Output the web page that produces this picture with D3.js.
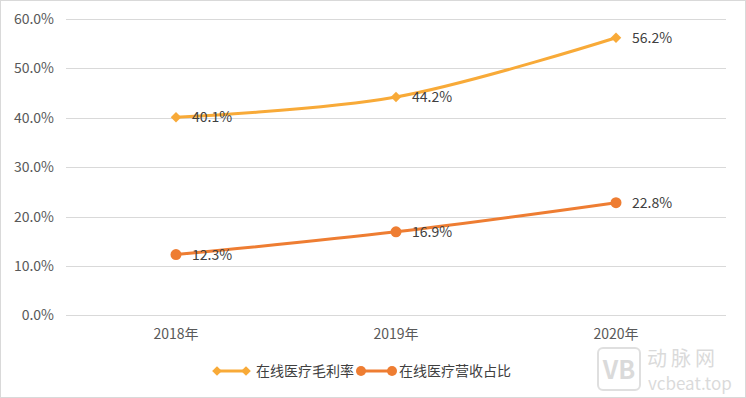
<!DOCTYPE html>
<html><head><meta charset="utf-8">
<script src="https://cdn.jsdelivr.net/npm/d3@7"></script>
<style>body{margin:0;background:#fff}svg{display:block}text{font-family:"Noto Sans CJK SC","Noto Sans",sans-serif}</style>
</head><body><svg id="c" width="746" height="398"></svg>
<script>
const categories = ["2018年","2019年","2020年"];
const grossMargin = [40.1, 44.2, 56.2];
const revenueShare = [12.3, 16.9, 22.8];
const yTicks = [0,10,20,30,40,50,60];
const seriesNames = ["在线医疗毛利率","在线医疗营收占比"];
const colors = ["#F8AA38","#EE7D32"];

const svg = d3.select("#c");
svg.append("rect").attr("x",0.5).attr("y",0.5).attr("width",745).attr("height",397).attr("fill","#fff").attr("stroke","#d9d9d9");

const x = d3.scaleBand().domain(categories).range([66,726]);
const y = d3.scaleLinear().domain([0,60]).range([315.3,19]);

const grid = svg.append("g");
yTicks.forEach(t=>{
  grid.append("line").attr("x1",66).attr("x2",726).attr("y1",Math.round(y(t))+0.5).attr("y2",Math.round(y(t))+0.5).attr("stroke","#d9d9d9").attr("stroke-width",1);
  svg.append("text").attr("x",54).attr("y",y(t)).attr("dy","0.36em").attr("text-anchor","end").attr("font-size",14).attr("fill","#595959").text(t.toFixed(1)+"%");
});
categories.forEach(c=>{
  svg.append("text").attr("x",x(c)+x.bandwidth()/2).attr("y",334).attr("dy","0.36em").attr("text-anchor","middle").attr("font-size",14).attr("fill","#595959").text(c);
});

const cx = c=>x(c)+x.bandwidth()/2;
const line = d3.line().x(d=>cx(d.c)).y(d=>y(d.v)).curve(d3.curveCatmullRom.alpha(0.5));
const series = [grossMargin, revenueShare];
series.forEach((vals,i)=>{
  const pts = vals.map((v,j)=>({c:categories[j],v}));
  svg.append("path").attr("d",line(pts)).attr("fill","none").attr("stroke",colors[i]).attr("stroke-width",3).attr("stroke-linecap","round");
  pts.forEach(p=>{
    if(i===0){
      svg.append("path").attr("d",d3.symbol(d3.symbolDiamond2,70)()).attr("transform",`translate(${cx(p.c)},${y(p.v)})`).attr("fill",colors[i]);
    } else {
      svg.append("circle").attr("cx",cx(p.c)).attr("cy",y(p.v)).attr("r",5.5).attr("fill",colors[i]);
    }
    svg.append("text").attr("x",cx(p.c)+16).attr("y",y(p.v)).attr("dy","0.36em").attr("font-size",14).attr("fill","#404040").text(p.v.toFixed(1)+"%");
  });
});

// legend
const ly = 371;
const leg = [{x0:213,tx:256},{x0:357,tx:399}];
leg.forEach((L,i)=>{
  svg.append("line").attr("x1",L.x0+4).attr("x2",L.x0+33).attr("y1",ly).attr("y2",ly).attr("stroke",colors[i]).attr("stroke-width",3);
  if(i===0){
    [L.x0+4,L.x0+33].forEach(px=>svg.append("path").attr("d",d3.symbol(d3.symbolDiamond2,60)()).attr("transform",`translate(${px},${ly})`).attr("fill",colors[i]));
  } else {
    [L.x0+4,L.x0+35].forEach(px=>svg.append("circle").attr("cx",px).attr("cy",ly).attr("r",5).attr("fill",colors[i]));
  }
  svg.append("text").attr("x",L.tx).attr("y",ly).attr("dy","0.36em").attr("font-size",14).attr("fill","#404040").text(seriesNames[i]);
});

// watermark
const wm = svg.append("g").attr("opacity",0.3);
wm.append("rect").attr("x",598).attr("y",348).attr("width",42).attr("height",42).attr("rx",5).attr("fill","none").attr("stroke","#999").attr("stroke-width",2);
wm.append("text").attr("x",619).attr("y",379).attr("text-anchor","middle").attr("font-size",25).attr("font-weight","bold").attr("font-family","Liberation Sans, sans-serif").attr("fill","#888").text("VB");
wm.append("text").attr("x",647).attr("y",366).attr("font-size",20).attr("fill","#888").attr("letter-spacing",4).text("动脉网");
wm.append("text").attr("x",648).attr("y",390).attr("font-size",17).attr("font-family","Liberation Sans, sans-serif").attr("fill","#888").text("vcbeat.top");
</script></body></html>
